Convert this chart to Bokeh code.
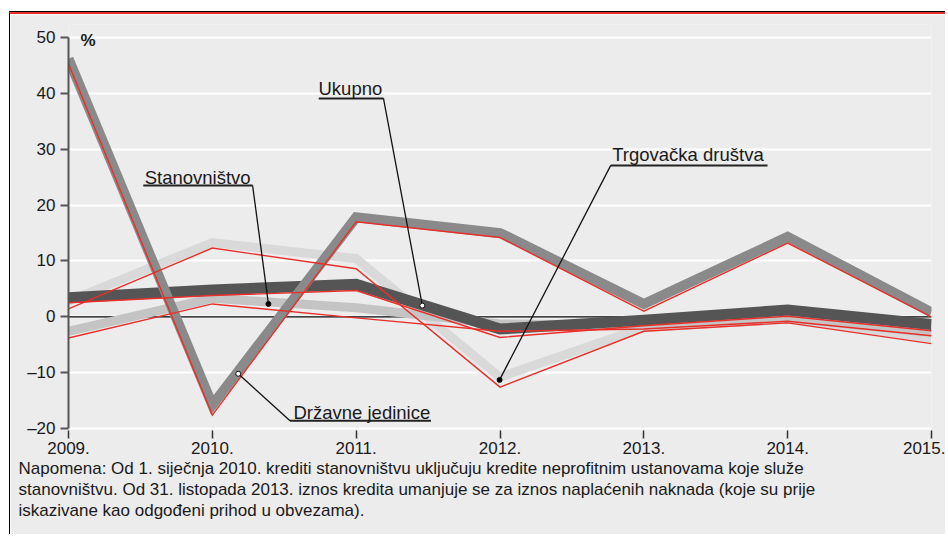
from bokeh.plotting import figure
from bokeh.models import Range1d, Label, FixedTicker, Title
from bokeh.embed import file_html
from bokeh.resources import INLINE

# ---------------- data ----------------
years = [2009, 2010, 2011, 2012, 2013, 2014, 2015]
year_labels = ["2009.", "2010.", "2011.", "2012.", "2013.", "2014.", "2015."]
y_ticks = [-20, -10, 0, 10, 20, 30, 40, 50]

ukupno = [3.4, 4.8, 5.8, -2.2, -0.6, 1.2, -1.4]
ukupno_red = [2.5, 3.8, 4.7, -3.7, -1.6, 0.1, -2.5]
stanovnistvo = [-2.6, 3.3, 1.6, -1.3, -1.5, -0.2, -2.8]
stanovnistvo_red = [-3.8, 2.3, -0.2, -2.6, -2.2, -0.8, -3.4]
trgovacka = [2.8, 13.3, 10.4, -10.8, -1.9, -0.4, -3.8]
trgovacka_red = [1.4, 12.3, 8.6, -12.6, -2.6, -1.1, -4.8]
drzavne = [46.2, -15.8, 17.8, 15.0, 2.3, 14.3, 0.8]
drzavne_red = [45.3, -17.6, 17.0, 14.2, 1.0, 13.2, 0.0]

series_names = ["Stanovništvo", "Ukupno", "Trgovačka društva", "Državne jedinice"]
unit_label = "%"
note_lines = [
    "Napomena: Od 1. siječnja 2010. krediti stanovništvu uključuju kredite neprofitnim ustanovama koje služe",
    "stanovništvu. Od 31. listopada 2013. iznos kredita umanjuje se za iznos naplaćenih naknada (koje su prije",
    "iskazivane kao odgođeni prihod u obvezama).",
]

# ---------------- style ----------------
FONT = "Liberation Sans"
BG = "#ececec"
RED = "#e8302a"
TXT = "#1a1a1a"

p = figure(
    width=936, height=522,
    x_range=Range1d(2009, 2015), y_range=Range1d(-20.36, 52.33),
    min_border_left=58, min_border_right=15, min_border_top=10, min_border_bottom=106,
    output_backend="svg", toolbar_location=None,
    background_fill_color=BG, border_fill_color=BG, outline_line_color=None,
    margin=(12, 0, 0, 9),
    styles={"border-left": "1px solid #000", "border-top": "2px solid " + RED,
            "box-shadow": "0 -1px 0 #000"},
)

# axes
p.yaxis.ticker = FixedTicker(ticks=y_ticks)
p.yaxis.bounds = (y_ticks[0], y_ticks[-1])
p.yaxis.major_label_overrides = {-20: "\u201320", -10: "\u201310"}
p.yaxis.axis_line_color = "#555555"
p.yaxis.axis_line_width = 2
p.yaxis.major_tick_line_color = "#555555"
p.yaxis.major_tick_line_width = 2
p.yaxis.major_tick_out = 8
p.yaxis.major_tick_in = 0
p.yaxis.minor_tick_line_color = None
p.yaxis.major_label_standoff = 5

p.xaxis.ticker = FixedTicker(ticks=years)
p.xaxis.major_label_overrides = {y: l for y, l in zip(years, year_labels)}
p.xaxis.axis_line_color = None
p.xaxis.major_tick_line_color = "#333333"
p.xaxis.major_tick_line_width = 1.5
p.xaxis.major_tick_out = 8
p.xaxis.major_tick_in = 0
p.xaxis.minor_tick_line_color = None
p.xaxis.major_label_standoff = 3

for ax in (p.xaxis, p.yaxis):
    ax.major_label_text_font = FONT
    ax.major_label_text_font_size = "17px"
    ax.major_label_text_color = TXT

p.xgrid.grid_line_color = None
p.ygrid.ticker = FixedTicker(ticks=y_ticks)
p.ygrid.grid_line_color = "white"
p.ygrid.grid_line_width = 2

# zero line
p.line([years[0], years[-1]], [0, 0], line_color="black", line_width=1.2)

# thick grey lines
thick = [
    (trgovacka, "#d9d9d9", 9),
    (stanovnistvo, "#c4c4c4", 9),
    (ukupno, "#555555", 11),
    (drzavne, "#8a8a8a", 10),
]
for vals, col, w in thick:
    p.line(years, vals, line_color=col, line_width=w, line_join="miter")

# thin red lines
for vals in (trgovacka_red, stanovnistvo_red, ukupno_red, drzavne_red):
    p.line(years, vals, line_color=RED, line_width=1.4, line_join="miter")

# leader lines (annotation geometry)
leaders = [
    ([2009.52, 2010.28, 2010.39], [23.5, 23.5, 2.3], "black"),
    ([2010.74, 2011.19, 2011.46], [39.1, 39.1, 2.0], "white"),
    ([2013.86, 2012.77, 2011.997], [27.1, 27.1, -11.3], "black"),
    ([2011.52, 2010.54, 2010.18], [-18.6, -18.6, -10.2], "white"),
]
for xs, ys, dot in leaders:
    p.line(xs[:2], ys[:2], line_color="#222222", line_width=2)
    p.line(xs[1:], ys[1:], line_color="#111111", line_width=1.3)
    p.scatter([xs[-1]], [ys[-1]], size=5, fill_color=dot, line_color="#111111", line_width=1)

label_pos = [(2009.53, 24.9), (2010.738, 40.9), (2012.78, 29.0), (2010.564, -17.1)]
for name, (lx, ly) in zip(series_names, label_pos):
    p.add_layout(Label(x=lx, y=ly, text=name, text_font=FONT, text_font_size="18.5px",
                       text_color=TXT, text_baseline="alphabetic", text_align="left"))

p.add_layout(Label(x=2009.083, y=49.5, text=unit_label, text_font=FONT, text_font_size="17px",
                   text_font_style="bold", text_color=TXT, text_baseline="middle", text_align="left"))

# note below the chart
for i, txt in enumerate(note_lines):
    t = Title(text=txt, align="left", offset=-50, standoff=0,
              text_font=FONT, text_font_size="17px", text_font_style="normal",
              text_color=TXT, background_fill_color=None)
    p.add_layout(t, "below")

open("out.html", "w").write(file_html(p, INLINE))
